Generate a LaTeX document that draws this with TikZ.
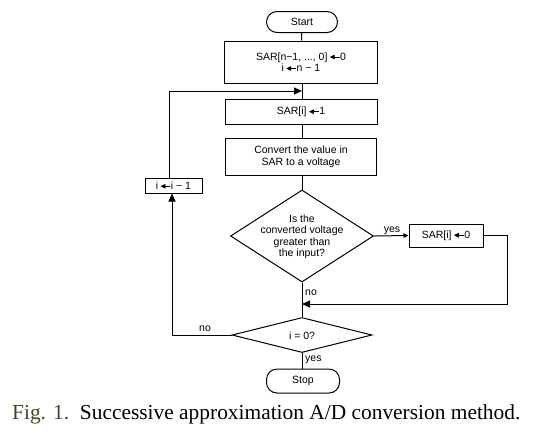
\documentclass[tikz,border=0pt]{standalone}
\usepackage{fontspec}
\setmainfont{Liberation Serif}
\newfontfamily\diagfont{Liberation Sans}
\usetikzlibrary{shapes.geometric,arrows.meta}
\definecolor{figgreen}{HTML}{3A4A22}
\newcommand{\lar}{\,\tikz[baseline=-0.55ex]{\draw[line width=0.9pt,-{Triangle[length=5pt,width=4.5pt]}] (10pt,0pt)--(0pt,0pt);}}
\begin{document}
\begin{tikzpicture}[x=1pt,y=-1pt,
  every node/.append style={font=\diagfont\fontsize{10.5}{11.5}\selectfont},
  proc/.style={draw,line width=1pt,inner sep=0pt,align=center},
  term/.style={draw,line width=1pt,rounded corners=10.5pt,inner sep=0pt},
  dia/.style={draw,diamond,line width=1pt,inner sep=0pt},
  flow/.style={line width=1pt},
  arr/.style={line width=1pt,-{Triangle[length=8pt,width=7pt]}},
  lbl/.style={inner sep=1pt}]
\useasboundingbox (0,0) rectangle (540,440);
\node[term,minimum width=71pt,minimum height=21pt] (start) at (302,22) {Start};
\node[proc,minimum width=153pt,minimum height=42pt] (b1) at (301,62) {SAR[n−1, ..., 0]\lar 0\\i\lar n − 1};
\node[proc,minimum width=152pt,minimum height=25pt] (b2) at (301,112) {SAR[i]\lar 1};
\node[proc,minimum width=151pt,minimum height=37pt] (b3) at (301,157) {Convert the value in\\SAR to a voltage};
\node[dia,minimum width=143pt,minimum height=92pt] (d1) at (302,236) {};
\node[align=center,inner sep=0pt] (d1t) at (302,237) {Is the\\converted voltage\\greater than\\the input?};
\node[proc,minimum width=74pt,minimum height=23pt] (b4) at (446,235.5) {SAR[i]\lar 0};
\node[dia,minimum width=140pt,minimum height=35pt] (d2) at (302,335) {};
\node[inner sep=0pt] (d2t) at (302,336) {i = 0?};
\node[proc,minimum width=57pt,minimum height=15pt] (b5) at (173.5,185.5) {i\lar i − 1};
\node[term,minimum width=73pt,minimum height=24pt] (stop) at (303,381) {Stop};
\coordinate (j1) at (302,91);
\coordinate (j2) at (302,304);
\coordinate (c1) at (169,91);
\coordinate (c2) at (172,335);
\coordinate (c3) at (507,235.5);
\coordinate (c4) at (507,304);
\draw[flow] (start) -- (b1);
\draw[flow] (b1.south -| j1) -- (b2.north -| j1);
\draw[flow] (b2.south -| j1) -- (b3.north -| j1);
\draw[flow] (b3.south -| d1) -- (d1.north);
\draw[flow] (d1.south) -- (d2.north);
\draw[flow] (d2.south) -- (stop.north -| d2);
\draw[arr] (b5.north -| c1) -- (c1) -- (j1);
\draw[arr] (d2.west) -- (c2) -- (b5.south -| c2);
\draw[line width=1pt,-{Triangle[length=5pt,width=4.5pt]}] (d1.east) -- (b4.west);
\draw[arr] (b4.east) -- (c3) -- (c4) -- (j2);
\node[lbl,anchor=south] at (392,236) {yes};
\node[lbl,anchor=west] at (304,293) {no};
\node[lbl,anchor=west] at (304,360) {yes};
\node[lbl,anchor=south] at (205,333) {no};
\node[font=\fontsize{21.4}{24}\selectfont,anchor=base west,inner sep=0pt] (cap) at (12,419) {\textcolor{figgreen}{Fig. 1.}\ \ Successive approximation A/D conversion method.};
\end{tikzpicture}
\end{document}
